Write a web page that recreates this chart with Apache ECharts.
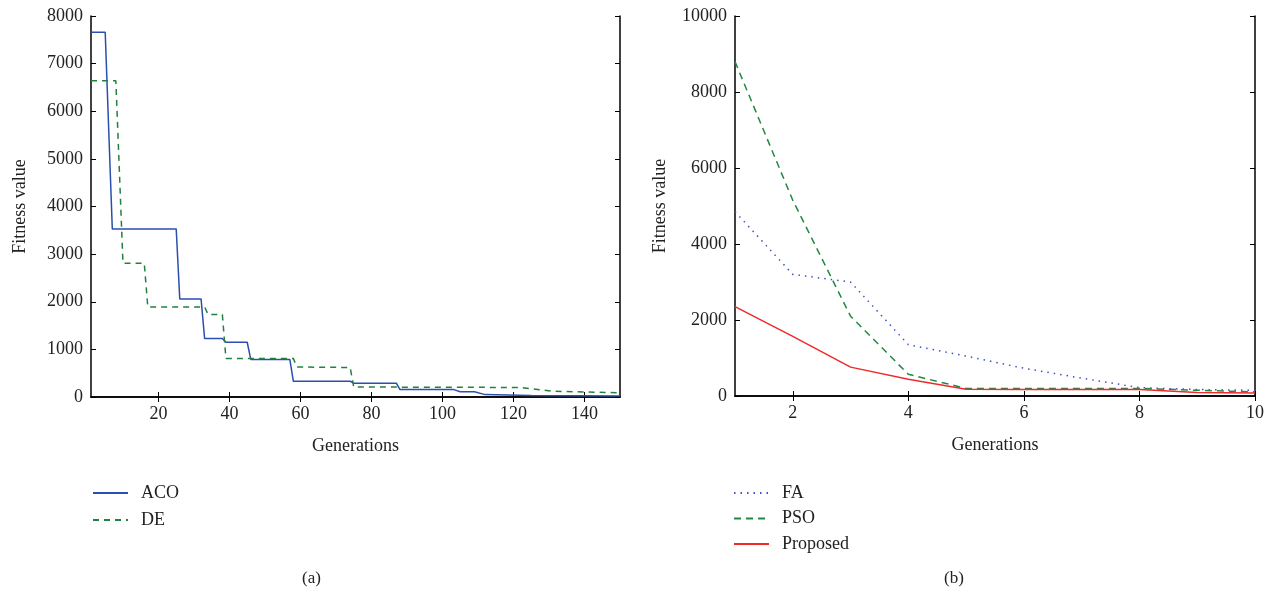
<!DOCTYPE html>
<html><head><meta charset="utf-8">
<script src="https://cdn.jsdelivr.net/npm/echarts@6/dist/echarts.min.js"></script>
<style>html,body{margin:0;padding:0;background:#fff}#c{width:1274px;height:601px}</style>
</head><body><div id="c"></div>
<script>
// Left panel (a): breakpoints [generation, fitness]
const acoGen = [1,5,7,25,26,32,33,38,39,45,46,57,58,74,75,87,88,103,105,109,112,125,150];
const acoVal = [7660,7660,3530,3530,2060,2060,1230,1230,1150,1150,790,790,330,330,290,290,160,160,110,110,50,30,20];
const deGen = [1,8,10,16,17,33,34,38,39,58,59,74,75,122,131,150];
const deVal = [6640,6640,2810,2810,1890,1890,1730,1730,810,810,630,620,210,200,120,90];
const leftXTicks = [20,40,60,80,100,120,140];
// Right panel (b)
const gens = [1,2,3,4,5,6,7,8,9,10];
const faVal = [4850,3200,3000,1350,1050,730,470,220,170,150];
const psoVal = [8800,5150,2100,570,200,200,200,200,150,110];
const propVal = [2350,1570,760,440,180,170,170,170,90,80];
const rightXTicks = [2,4,6,8,10];

const font = 'Liberation Serif';
const tc = '#222';
function pairs(xs, ys){ return xs.map((x,i)=>[x, ys[i]]); }
const plain = v => String(v);

function axisSet(gi, xmin, xmax, xticks, ymax, yint){
  return {
    x: [{
      type:'value', gridIndex:gi, min:xmin, max:xmax, position:'bottom',
      name: 'Generations', nameLocation:'middle', nameGap:40,
      nameTextStyle:{fontFamily:font,fontSize:18,color:tc},
      axisLine:{lineStyle:{color:'#000',width:1.5}},
      axisTick:{inside:true,length:5,customValues:xticks,lineStyle:{color:'#000'}},
      axisLabel:{customValues:xticks,fontFamily:font,fontSize:18,color:tc,margin:8,formatter:plain},
      splitLine:{show:false}
    },{
      type:'value', gridIndex:gi, min:xmin, max:xmax, position:'top',
      axisLine:{lineStyle:{color:'#000',width:1.5}},
      axisTick:{inside:true,length:5,customValues:xticks,lineStyle:{color:'#000'}},
      axisLabel:{show:false}, splitLine:{show:false}
    }],
    y: [{
      type:'value', gridIndex:gi, min:0, max:ymax, interval:yint, position:'left',
      name:'Fitness value', nameLocation:'middle', nameGap: ymax>9000?66:62, nameRotate:90,
      nameTextStyle:{fontFamily:font,fontSize:18,color:tc},
      axisLine:{show:true,lineStyle:{color:'#000',width:1.5}},
      axisTick:{show:true,inside:true,length:5,lineStyle:{color:'#000'}},
      axisLabel:{fontFamily:font,fontSize:18,color:tc,margin:8,formatter:plain},
      splitLine:{show:false}
    },{
      type:'value', gridIndex:gi, min:0, max:ymax, interval:yint, position:'right',
      axisLine:{show:true,lineStyle:{color:'#000',width:1.5}},
      axisTick:{show:true,inside:true,length:5,lineStyle:{color:'#000'}},
      axisLabel:{show:false}, splitLine:{show:false}
    }]
  };
}
const L = axisSet(0,1,150,leftXTicks,8000,1000);
const R = axisSet(1,1,10,rightXTicks,10000,2000);

const legendCommon = {orient:'vertical',itemWidth:35,itemHeight:12,
  itemStyle:{opacity:0},
  textStyle:{fontFamily:font,fontSize:18,color:tc,padding:[0,0,0,8]}};

const chart = echarts.init(document.getElementById('c'));
chart.setOption({
  animation:false,
  grid:[
    {left:91,right:654,top:16,bottom:204},
    {left:735,right:19,top:16,bottom:205}
  ],
  xAxis:[...L.x, ...R.x],
  yAxis:[...L.y, ...R.y],
  legend:[
    Object.assign({left:87,top:479,itemGap:9,data:['ACO','DE']},legendCommon),
    Object.assign({left:728,top:479,itemGap:7.5,data:['FA','PSO','Proposed']},legendCommon)
  ],
  graphic:[
    {type:'text',left:302,top:570,style:{text:'(a)',font:'17px "Liberation Serif"',fill:tc}},
    {type:'text',left:944,top:570,style:{text:'(b)',font:'17px "Liberation Serif"',fill:tc}}
  ],
  series:[
    {name:'ACO',type:'line',xAxisIndex:0,yAxisIndex:0,symbol:'none',data:pairs(acoGen,acoVal),
     lineStyle:{color:'#2b4fae',width:1.5},itemStyle:{color:'#2b4fae'}},
    {name:'DE',type:'line',xAxisIndex:0,yAxisIndex:0,symbol:'none',data:pairs(deGen,deVal),
     lineStyle:{color:'#21813f',width:1.5,type:[6,5]},itemStyle:{color:'#21813f'}},
    {name:'FA',type:'line',xAxisIndex:2,yAxisIndex:2,symbol:'none',data:pairs(gens,faVal),
     lineStyle:{color:'#3d55c4',width:1.5,type:[1.5,5]},itemStyle:{color:'#3d55c4'}},
    {name:'PSO',type:'line',xAxisIndex:2,yAxisIndex:2,symbol:'none',data:pairs(gens,psoVal),
     lineStyle:{color:'#1f8a42',width:1.5,type:[7,5]},itemStyle:{color:'#1f8a42'}},
    {name:'Proposed',type:'line',xAxisIndex:2,yAxisIndex:2,symbol:'none',data:pairs(gens,propVal),
     lineStyle:{color:'#f02a2a',width:1.5},itemStyle:{color:'#f02a2a'}}
  ]
});
</script></body></html>
